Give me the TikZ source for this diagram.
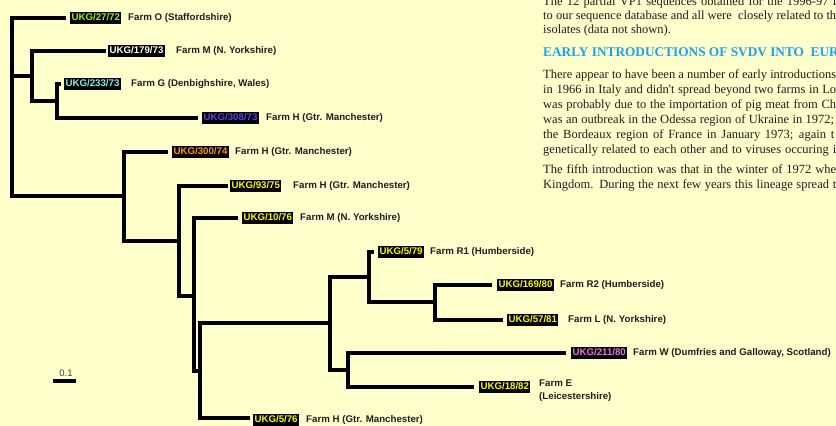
\documentclass[tikz,border=0pt]{standalone}
\usepackage{fontspec}
\setmainfont{Liberation Serif}
\setsansfont{Liberation Sans}
\definecolor{bgc}{RGB}{255,255,204}
\definecolor{cgreen}{RGB}{160,240,0}
\definecolor{caqua}{RGB}{130,240,220}
\definecolor{cviolet}{RGB}{100,60,235}
\definecolor{corange}{RGB}{255,153,0}
\definecolor{cyel}{RGB}{250,250,0}
\definecolor{cpink}{RGB}{240,110,220}
\definecolor{headc}{RGB}{30,160,240}
\definecolor{bodyc}{RGB}{30,30,30}
\begin{document}
\begin{tikzpicture}[x=1pt,y=-1pt,
  branch/.style={line width=3.4pt, line join=miter},
  iso/.style={anchor=west, fill=black, inner xsep=1.3pt, inner ysep=2pt, text height=7.2pt, text depth=1.6pt,
    font=\sffamily\bfseries\fontsize{9.7}{10}\selectfont},
  farm/.style={anchor=west, inner sep=0pt, text=bodyc, text height=7pt, text depth=2pt,
    font=\sffamily\bfseries\fontsize{9.7}{11}\selectfont},
  farm2/.style={anchor=north west, inner sep=0pt, text=bodyc, align=left,
    font=\sffamily\bfseries\fontsize{9.7}{13}\selectfont},
  body/.style={anchor=base west, inner sep=0pt, text=bodyc, font=\fontsize{12.5}{15}\selectfont},
  head/.style={anchor=base west, inner sep=0pt, text=headc, font=\bfseries\fontsize{13.3}{15}\selectfont}]
\clip (0,0) rectangle (836,426);
\fill[bgc] (0,0) rectangle (836,426);

% text block
\node[body] (p1) at (543,5) {\makebox[293pt][s]{The 12 partial VP1 sequences obtained for the 1996-97 i}};
\node[body] (p2) at (543,19) {\makebox[293pt][s]{to our sequence database and all were\ \ closely related to th}};
\node[body] (p3) at (543,33) {isolates (data not shown).};
\node[head] (h1) at (543,56) {EARLY INTRODUCTIONS OF SVDV INTO\ \ EUR};
\node[body] (q1) at (543,78) {\makebox[293pt][s]{There appear to have been a number of early introductions}};
\node[body] (q2) at (543,93) {\makebox[293pt][s]{in 1966 in Italy and didn\textquotesingle t spread beyond two farms in Lo}};
\node[body] (q3) at (543,108) {\makebox[293pt][s]{was probably due to the importation of pig meat from Ch}};
\node[body] (q4) at (543,123) {\makebox[291pt][s]{was an outbreak in the Odessa region of Ukraine in 1972;}};
\node[body] (q5) at (543,138) {\makebox[291pt][s]{the Bordeaux region of France in January 1973; again t}};
\node[body] (q6) at (543,153) {\makebox[293pt][s]{genetically related to each other and to viruses occuring i}};
\node[body] (q7) at (543,173) {\makebox[293pt][s]{The fifth introduction was that in the winter of 1972 whe}};
\node[body] (q8) at (543,188) {\makebox[293pt][s]{Kingdom. During the next few years this lineage spread t}};

% leaf tips
\coordinate (tO) at (66,18);
\coordinate (tM1) at (106,51);
\coordinate (tG) at (61,84);
\coordinate (tH1) at (198,118);
\coordinate (tH2) at (168,152);
\coordinate (tH3) at (228,186);
\coordinate (tM2) at (238,218);
\coordinate (tR1) at (374,252);
\coordinate (tR2) at (492,285);
\coordinate (tL) at (503,320);
\coordinate (tW) at (566,353);
\coordinate (tE) at (474,387);
\coordinate (tH4) at (250,418);
% internal nodes
\coordinate (R) at (12,107);
\coordinate (A) at (32,76);
\coordinate (C) at (57,101);
\coordinate (B) at (124,196);
\coordinate (D) at (179,241);
\coordinate (E) at (194,296);
\coordinate (F) at (200,371);
\coordinate (G) at (330,323);
\coordinate (H) at (369,277);
\coordinate (J) at (435,302);
\coordinate (I) at (348,370);

% branches
\draw[branch] (tO) -| (R) |- (B);
\draw[branch] (R |- A) -- (A);
\draw[branch] (tM1) -| (A) |- (C);
\draw[branch] (tG) -| (C) |- (tH1);
\draw[branch] (tH2) -| (B) |- (D);
\draw[branch] (tH3) -| (D) |- (E);
\draw[branch] (tM2) -| (E) |- (F);
\draw[branch] (G) -| (F) |- (tH4);
\draw[branch] (H) -| (G) |- (I);
\draw[branch] (tR1) -| (H) |- (J);
\draw[branch] (tR2) -| (J) |- (tL);
\draw[branch] (tW) -| (I) |- (tE);

% isolate labels
\node[iso, text=cgreen] (lO) at (70,18) {UKG/27/72};
\node[iso, text=white] (lM1) at (108,51) {UKG/179/73};
\node[iso, text=caqua] (lG) at (64,84) {UKG/233/73};
\node[iso, text=cviolet] (lH1) at (202,118) {UKG/308/73};
\node[iso, text=corange] (lH2) at (172,152) {UKG/300/74};
\node[iso, text=cyel] (lH3) at (230,186) {UKG/93/75};
\node[iso, text=cyel] (lM2) at (242,218) {UKG/10/76};
\node[iso, text=cyel] (lR1) at (378,252) {UKG/5/79};
\node[iso, text=cyel] (lR2) at (497,285) {UKG/169/80};
\node[iso, text=cyel] (lL) at (507,320) {UKG/57/81};
\node[iso, text=cpink] (lW) at (571,353) {UKG/211/80};
\node[iso, text=cyel] (lE) at (479,387) {UKG/18/82};
\node[iso, text=cyel] (lH4) at (253,420) {UKG/5/76};

% farm labels
\node[farm] (fO) at (128,18) {Farm O (Staffordshire)};
\node[farm] (fM1) at (176,51) {Farm M (N. Yorkshire)};
\node[farm] (fG) at (131,84) {Farm G (Denbighshire, Wales)};
\node[farm] (fH1) at (266,118) {Farm H (Gtr. Manchester)};
\node[farm] (fH2) at (235,152) {Farm H (Gtr. Manchester)};
\node[farm] (fH3) at (293,186) {Farm H (Gtr. Manchester)};
\node[farm] (fM2) at (300,218) {Farm M (N. Yorkshire)};
\node[farm] (fR1) at (430,252) {Farm R1 (Humberside)};
\node[farm] (fR2) at (560,285) {Farm R2 (Humberside)};
\node[farm] (fL) at (568,320) {Farm L (N. Yorkshire)};
\node[farm] (fW) at (633,353) {Farm W (Dumfries and Galloway, Scotland)};
\node[farm2] (fE) at (539,380) {Farm E\\(Leicestershire)};
\node[farm] (fH4) at (306,420) {Farm H (Gtr. Manchester)};

% scale bar
\node[inner sep=0pt, text=black!75, font=\sffamily\fontsize{9.5}{10}\selectfont] (sl) at (66,373) {0.1};
\coordinate (s1) at (53,381);
\coordinate (s2) at (76,381);
\draw[branch] (s1) -- (s2);
\end{tikzpicture}
\end{document}
